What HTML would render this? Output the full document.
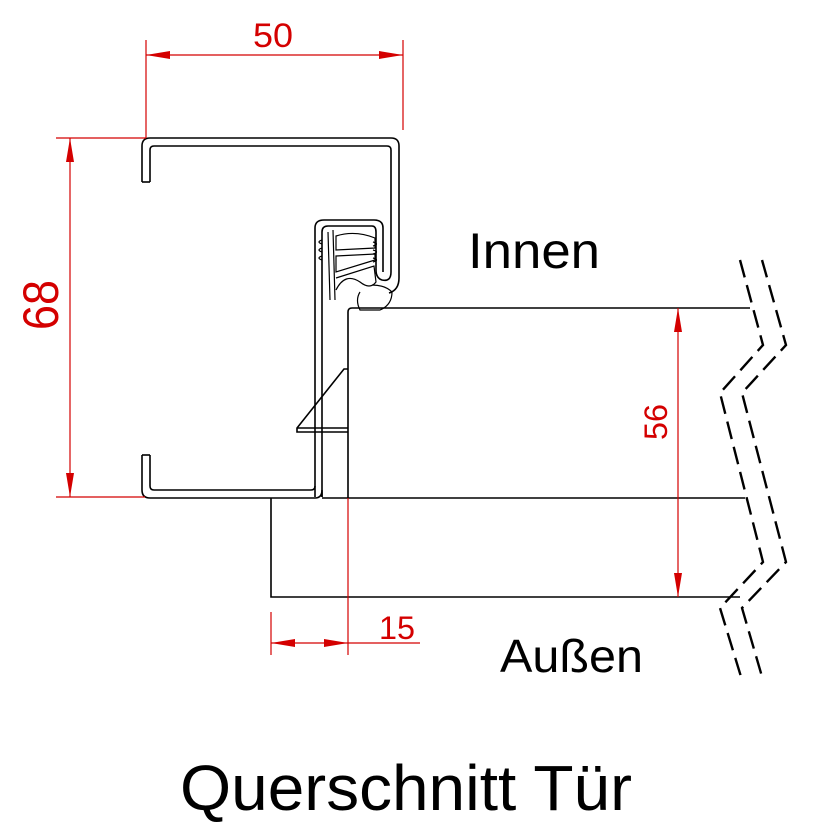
<!DOCTYPE html>
<html><head><meta charset="utf-8"><style>
html,body{margin:0;padding:0;background:#fff;}
svg{display:block;}
text{font-family:"Liberation Sans Narrow","Liberation Sans",sans-serif;}
</style></head><body>
<svg width="840" height="840" viewBox="0 0 840 840" xmlns="http://www.w3.org/2000/svg">
<g fill="none" stroke="#000" stroke-width="1.6">
<path d="M142,182 L142,146 Q142,138 150,138 L391,138 Q399,138 399,146 L399,278 Q399,290 389,293"/>
<path d="M150,182 L150,150 Q150,146 154,146 L387,146 Q391,146 391,150 L391,272 Q391,282 382,280 Q376,278 376,270"/>
<path d="M142,182 L150,182"/>
<path d="M322,497 L322,232 Q322,226 328,226 L372,226 Q376,226 376,232 L376,270"/>
<path d="M315,497 L315,228 Q315,220 324,220 L374,220 Q383,220 383,228 L383,272"/>
<path d="M142,455 L142,490 Q142,498 150,498 L315,498 Q322,498 322,490 L322,497"/>
<path d="M150,455 L150,486 Q150,490 154,490 L311,490 Q315,490 315,486"/>
<path d="M142,455 L150,455"/>
<g stroke-width="1.2">
<path d="M328,232 L330,300"/>
<path d="M333,230 L335,300"/>
<path d="M336,236 Q355,230 375,238 L375,248 L336,250 Z"/>
<path d="M336,256 L375,254 L375,260 L336,272 Z"/>
<path d="M336,278 L374,266 L376,282 Q370,290 360,282 Q345,272 336,290"/>
<path d="M322,240 Q316,242 322,244 M322,248 Q316,250 322,252 M322,256 Q316,258 322,260"/>
<path d="M373,242 Q380,244 373,246 M373,250 Q380,252 373,254 M373,258 Q380,260 373,262"/>
<path d="M372,285 Q385,285 392,292 Q392,305 380,310 L360,310 Q355,300 360,292"/>
</g>
<path d="M348,498 L348,312 Q348,308 352,308 L750,308"/>
<path d="M322,498 L745,498"/>
<path d="M271,498 L271,597 L740,597"/>
<path d="M348,369 L344,369 L297,428 L297,432 L348,432"/>
<path d="M297,428 L348,428"/>
</g>
<g fill="none" stroke="#000" stroke-width="2.4" stroke-dasharray="18,8">
<path d="M740,260 L763,345 L720,393 L763,562 L720,608 L742,680"/>
<path d="M762,260 L786,345 L742,393 L786,562 L742,608 L763,680"/>
</g>
<g stroke="#d40000" stroke-width="1.2" fill="none">
<path d="M146,40 L146,138 M403,40 L403,130 M146,55 L403,55"/>
<path d="M56,138 L146,138 M56,497 L145,497 M70,138 L70,497"/>
<path d="M678,308 L678,597"/>
<path d="M271,612 L271,655 M348,498 L348,655 M271,643 L420,643"/>
</g>
<g fill="#d40000">
<path d="M146,55 L170,51 L170,59 Z M403,55 L379,51 L379,59 Z"/>
<path d="M70,138 L66,162 L74,162 Z M70,497 L66,473 L74,473 Z"/>
<path d="M678,308 L674,332 L682,332 Z M678,597 L674,573 L682,573 Z"/>
<path d="M271,643 L295,639 L295,647 Z M348,643 L324,639 L324,647 Z"/>
</g>
<g fill="#d40000">
<text x="273" y="47" font-size="34" text-anchor="middle" textLength="40" lengthAdjust="spacingAndGlyphs">50</text>
<text transform="translate(58,305) rotate(-90)" font-size="50" text-anchor="middle" textLength="50" lengthAdjust="spacingAndGlyphs">68</text>
<text transform="translate(667,422) rotate(-90)" font-size="32" text-anchor="middle" textLength="36" lengthAdjust="spacingAndGlyphs">56</text>
<text x="397" y="639" font-size="32" text-anchor="middle" textLength="36" lengthAdjust="spacingAndGlyphs">15</text>
</g>
<g fill="#000">
<text x="468" y="268" font-size="50" textLength="132" lengthAdjust="spacingAndGlyphs">Innen</text>
<text x="500" y="672" font-size="46" textLength="143" lengthAdjust="spacingAndGlyphs">Außen</text>
<text x="180" y="810" font-size="64" textLength="452" lengthAdjust="spacingAndGlyphs">Querschnitt Tür</text>
</g>
</svg>
</body></html>
